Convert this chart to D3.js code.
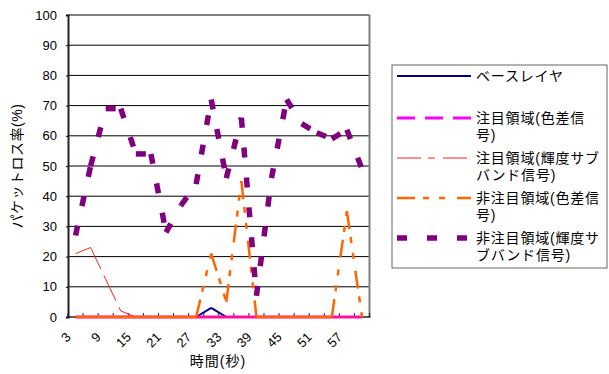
<!DOCTYPE html>
<html><head><meta charset="utf-8">
<script src="https://cdn.jsdelivr.net/npm/d3@7/dist/d3.min.js"></script>
<style>
html,body{margin:0;padding:0;background:#fff;}
text{font-family:"Liberation Sans","Noto Sans CJK JP",sans-serif;fill:#000;}
</style></head>
<body>
<svg id="chart" width="609" height="374"></svg>
<script>
const categories = [3,6,9,12,15,18,21,24,27,30,33,36,39,42,45,48,51,54,57,60];
const tickLabels = ["3","9","15","21","27","33","39","45","51","57"];
const yTicks = [0,10,20,30,40,50,60,70,80,90,100];
const seriesNames = ["ベースレイヤ","注目領域(色差信号)","注目領域(輝度サブバンド信号)","非注目領域(色差信号)","非注目領域(輝度サブバンド信号)"];
const legendLines = [["ベースレイヤ"],["注目領域(色差信","号)"],["注目領域(輝度サブ","バンド信号)"],["非注目領域(色差信","号)"],["非注目領域(輝度サ","ブバンド信号)"]];
const baseLayer    = [0,0,0,0,0,0,0,0,0,3,0,0,0,0,0,0,0,0,0,0];
const roiChroma    = [0,0,0,0,0,0,0,0,0,0,0,0,0,0,0,0,0,0,0,0];
const roiLuma      = [21,23,12.5,2,0,0,0,0,0,0,0,0,0,0,0,0,0,0,0,0];
const nonRoiChroma = [0,0,0,0,0,0,0,0,0,21,5,45,0,0,0,0,0,0,35,0];
const nonRoiLuma   = [27,50,69,69,54,54,28,37,44,72,46,66,7,46,72,64,61,59,62,49];

const styles = [
  {color:"#000080", width:2,   dash:null},
  {color:"#FF00FF", width:3,   dash:"18,10"},
  {color:"#FF2020", width:1,   dash:"24,7,7,8"},
  {color:"#FF6600", width:2.5, dash:"18,8,6,10,6,12"},
  {color:"#800080", width:5.5, dash:"10,20"}
];
const seriesData = [baseLayer, roiChroma, roiLuma, nonRoiChroma, nonRoiLuma];

const svg = d3.select("#chart");
const L = 68, R = 369.5, T = 15, B = 317;
const x = d3.scaleBand().domain(categories).range([L, R]).padding(0);
const y = d3.scaleLinear().domain([0,100]).range([B, T]);
const cx = c => x(c) + x.bandwidth()/2;

// gridlines
svg.append("g").selectAll("line").data(yTicks.filter(d=>d>0 && d<100)).join("line")
  .attr("x1", L).attr("x2", R).attr("y1", d=>y(d)).attr("y2", d=>y(d))
  .attr("stroke", "#000").attr("stroke-width", 1);

// plot border top/right
svg.append("line").attr("x1", L).attr("x2", R).attr("y1", T).attr("y2", T).attr("stroke","#808080").attr("stroke-width",2);
svg.append("line").attr("x1", R).attr("x2", R).attr("y1", T).attr("y2", B).attr("stroke","#808080").attr("stroke-width",2);

// y axis
const yAxis = d3.axisLeft(y).tickValues(yTicks).tickSize(2).tickPadding(9);
const gy = svg.append("g").attr("transform", `translate(${L},0)`).call(yAxis);
gy.select(".domain").attr("stroke","#222").attr("stroke-width",2);
gy.selectAll("text").attr("font-size","13px").attr("font-family","Liberation Sans, Arial, sans-serif");

// x axis: inner ticks at category boundaries
const boundaries = categories.map(c => x(c)).concat([R]);
svg.append("g").selectAll("line").data(boundaries).join("line")
  .attr("x1", d=>d).attr("x2", d=>d).attr("y1", B-4).attr("y2", B)
  .attr("stroke", "#222").attr("stroke-width", 1);
svg.append("line").attr("x1", L-1).attr("x2", R+1).attr("y1", B).attr("y2", B).attr("stroke","#222").attr("stroke-width",1.5);

svg.append("g").selectAll("text").data(tickLabels).join("text")
  .attr("transform", d => `translate(${cx(+d)-4},${B+21}) rotate(-45)`)
  .attr("text-anchor","end").attr("font-size","13px")
  .text(d=>d);

// axis titles
svg.append("text").attr("x", 218).attr("y", 366).attr("text-anchor","middle").attr("font-size","14px").attr("letter-spacing","1px").text("時間(秒)");
svg.append("text").attr("transform","translate(22,166) rotate(-90)").attr("text-anchor","middle").attr("font-size","14px").attr("letter-spacing","0.5px").text("パケットロス率(%)");

// series, each segment restarts its dash pattern
seriesData.forEach((vals, si) => {
  const st = styles[si];
  const pts = vals.map((v,i)=>[cx(categories[i]), y(v)]);
  const segs = d3.pairs(pts);
  svg.append("g").selectAll("line").data(segs).join("line")
    .attr("x1", d=>d[0][0]).attr("y1", d=>d[0][1])
    .attr("x2", d=>d[1][0]).attr("y2", d=>d[1][1])
    .attr("stroke", st.color).attr("stroke-width", st.width)
    .attr("stroke-dasharray", st.dash)
    .attr("stroke-linecap","butt");
});

// legend
const lg = svg.append("g");
lg.append("rect").attr("x",392).attr("y",65).attr("width",215).attr("height",203)
  .attr("fill","#fff").attr("stroke","#666").attr("stroke-width",1);
const entryY = [76,118,158,198,238];
seriesNames.forEach((name, i) => {
  const st = styles[i];
  lg.append("line").attr("x1",397).attr("x2",471).attr("y1",entryY[i]).attr("y2",entryY[i])
    .attr("stroke",st.color).attr("stroke-width",st.width).attr("stroke-dasharray",st.dash);
  const t = lg.append("text").attr("x",476).attr("y",entryY[i]+5).attr("font-size","14px").attr("letter-spacing","0.8px");
  legendLines[i].forEach((ln, j) => {
    t.append("tspan").attr("x",476).attr("dy", j===0 ? 0 : 17).text(ln);
  });
});
</script>
</body></html>
